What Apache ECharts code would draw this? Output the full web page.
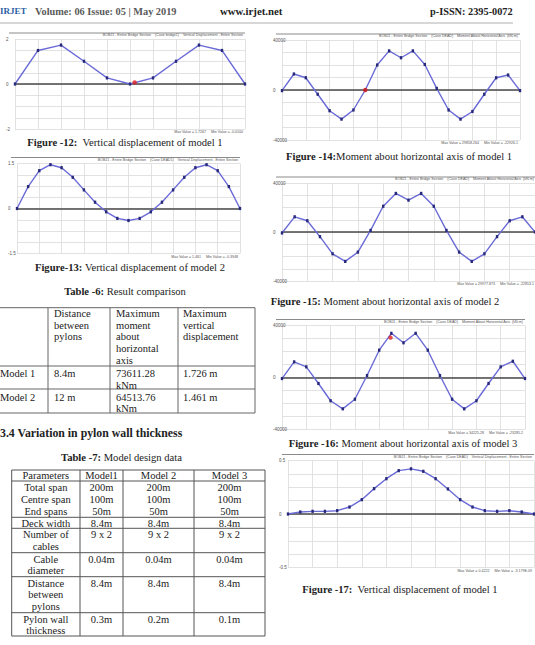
<!DOCTYPE html>
<html>
<head>
<meta charset="utf-8">
<script src="https://cdn.jsdelivr.net/npm/echarts@6/dist/echarts.min.js"></script>
<style>
  html, body { margin: 0; padding: 0; background: #fff; }
  #page { width: 535px; height: 645px; }
</style>
</head>
<body>
<div id="page"></div>
<script>
// deflection / moment values
var fig12Y = [0, 1.49, 1.73, 1.01, 0.27, 0, 0.27, 1.01, 1.73, 1.49, 0];
var fig12Mark = [5.2, 0.07];
var fig13Y = [0, 0.73, 1.26, 1.46, 1.36, 1.04, 0.62, 0.21, -0.11, -0.33, -0.40,
              -0.33, -0.11, 0.21, 0.62, 1.04, 1.36, 1.46, 1.26, 0.73, 0];
var fig14Y = [-500, 12800, 9800, -3400, -16600, -23300, -16000, 0, 20000, 31300, 25800,
              31300, 20400, 1300, -16000, -23300, -17200, -3400, 9800, 12000, -500];
var fig14Mark = [7, 0];
var fig15Y = [-800, 12400, 9200, -3800, -17800, -24000, -16400, 1300, 21000, 31500, 26000,
              31500, 21000, 1300, -16400, -24000, -17800, -3800, 9200, 12400, 0];
var fig16Y = [-800, 12000, 8200, -4600, -17900, -24100, -16700, 1500, 21000, 34000, 26700,
              34000, 21000, 1500, -16700, -24100, -17900, -4600, 8200, 12500, -800];
var fig16Mark = [8.93, 30700];
var fig17Y = [0, 0.019, 0.025, 0.025, 0.031, 0.065, 0.134, 0.237, 0.330, 0.405, 0.422,
              0.399, 0.330, 0.234, 0.134, 0.065, 0.031, 0.025, 0.031, 0.019, 0];

var table6Head = ['', 'Distance\nbetween\npylons', 'Maximum\nmoment\nabout\nhorizontal\naxis', 'Maximum\nvertical\ndisplacement'];
var table6Rows = [
    ['Model 1', '8.4m', '73611.28\nkNm', '1.726 m'],
    ['Model 2', '12 m', '64513.76\nkNm', '1.461 m']
];
var table7Rows = [
    ['Parameters', 'Model1', 'Model 2', 'Model 3'],
    ['Total span\nCentre span\nEnd spans', '200m\n100m\n50m', '200m\n100m\n50m', '200m\n100m\n50m'],
    ['Deck width', '8.4m', '8.4m', '8.4m'],
    ['Number of\ncables', '9 x 2', '9 x 2', '9 x 2'],
    ['Cable\ndiameter', '0.04m', '0.04m', '0.04m'],
    ['Distance\nbetween\npylons', '8.4m', '8.4m', '8.4m'],
    ['Pylon wall\nthickness', '0.3m', '0.2m', '0.1m']
];

var serif = '"Liberation Serif", "DejaVu Serif", serif';
var sans = '"Liberation Sans", Arial, sans-serif';

var plots = [
    {box: [15, 39, 230, 90], ymax: 2, ystep: 0.5, xmax: 10, xstep: 1, values: fig12Y, mark: fig12Mark,
     labels: ['2', '0', '-2'],
     head: 'BOBJ1 - Entire Bridge Section    (Case bridge1)    Vertical Displacement - Entire Section',
     foot: 'Max Value = 1.7267     Min Value = -0.0100'},
    {box: [17, 163.5, 223, 90], ymax: 1.5, ystep: 0.375, xmax: 20, xstep: 2, values: fig13Y,
     labels: ['1.5', '0', '-1.5'],
     head: 'BOBJ1 - Entire Bridge Section    (Case DEAD1)    Vertical Displacement - Entire Section',
     foot: 'Max Value = 1.461     Min Value = -0.3948'},
    {box: [282, 40, 238, 100], ymax: 40000, ystep: 10000, xmax: 20, xstep: 2, values: fig14Y, mark: fig14Mark,
     labels: ['40000', '0', '-40000'],
     head: 'BOBJ1 - Entire Bridge Section    (Case DEAD)    Moment About Horizontal Axis  (kN-m)',
     foot: 'Max Value = 29858.264     Min Value = -22926.1'},
    {box: [282, 183, 254, 98], ymax: 40000, ystep: 10000, xmax: 20, xstep: 2, values: fig15Y,
     labels: ['40000', '0', '-40000'],
     head: 'BOBJ1 - Entire Bridge Section    (Case DEAD)    Moment About Horizontal Axis  (kN-m)',
     foot: 'Max Value = 29977.873     Min Value = -22853.1'},
    {box: [282, 325.5, 243, 104], ymax: 40000, ystep: 10000, xmax: 20, xstep: 2, values: fig16Y, mark: fig16Mark,
     labels: ['40000', '0', '-40000'],
     head: 'BOBJ1 - Entire Bridge Section    (Case DEAD)    Moment About Horizontal Axis  (kN-m)',
     foot: 'Max Value = 34225.28     Min Value = -23285.2'},
    {box: [288, 460.5, 246, 107], ymax: 0.5, ystep: 0.125, xmax: 20, xstep: 2, values: fig17Y,
     labels: ['0.5', '0', '-0.5'],
     head: 'BOBJ1 - Entire Bridge Section    (Case DEAD)    Vertical Displacement - Entire Section',
     foot: 'Max Value = 0.4222     Min Value = -3.179E-09'}
];

function txt(x, y, s, o) {
    o = o || {};
    var style = {
        text: s,
        fill: o.color || '#222',
        fontSize: o.size || 10.5,
        fontWeight: o.weight || 'normal',
        fontFamily: o.family || serif,
        align: o.align || 'left',
        verticalAlign: o.va || 'middle'
    };
    if (o.lh) style.lineHeight = o.lh;
    if (o.rich) style.rich = o.rich;
    return {type: 'text', x: x, y: y, silent: true, z: 10, style: style};
}

function ln(x1, y1, x2, y2, color, w) {
    return {type: 'line', silent: true, z: 9,
        shape: {x1: x1, y1: y1, x2: x2, y2: y2},
        style: {stroke: color || '#555', lineWidth: w || 1}};
}

function caption(cx, y, bold, rest) {
    var rich = {b: {fontWeight: 'bold', fontSize: 10.6, fontFamily: serif, fill: '#222'},
                n: {fontSize: 10.6, fontFamily: serif, fill: '#222'}};
    return txt(cx, y, '{b|' + bold + '}{n|' + rest + '}', {align: 'center', size: 10.6, rich: rich});
}

var grids = [], xAxes = [], yAxes = [], series = [], graphics = [];

plots.forEach(function (p, i) {
    var b = p.box;
    grids.push({left: b[0], top: b[1], width: b[2], height: b[3], containLabel: false});
    xAxes.push({
        gridIndex: i, type: 'value', min: 0, max: p.xmax, interval: p.xstep,
        axisLabel: {show: false}, axisTick: {show: false},
        axisLine: {onZero: true, lineStyle: {color: '#4a4a4a', width: 1.6}},
        splitLine: {lineStyle: {color: '#dadada', width: 0.8}}
    });
    yAxes.push({
        gridIndex: i, type: 'value', min: -p.ymax, max: p.ymax, interval: p.ystep,
        axisLine: {show: false}, axisTick: {show: false},
        splitLine: {lineStyle: {color: '#dadada', width: 0.8}},
        axisLabel: {
            fontSize: 4.5, color: '#555', fontFamily: sans, align: 'left', margin: 9,
            formatter: function (v) {
                if (v === p.ymax) return p.labels[0];
                if (v === 0) return p.labels[1];
                if (v === -p.ymax) return p.labels[2];
                return '';
            }
        }
    });
    series.push({
        type: 'line', xAxisIndex: i, yAxisIndex: i,
        data: p.values.map(function (v, k) { return [k, v]; }),
        symbol: 'rect', symbolSize: [2.4, 3.2], showSymbol: true,
        lineStyle: {color: '#6b6bd8', width: 1.4},
        itemStyle: {color: '#27297a'},
        animation: false, z: 3
    });
    if (p.mark) {
        series.push({
            type: 'scatter', xAxisIndex: i, yAxisIndex: i, data: [p.mark],
            symbolSize: 4.5, itemStyle: {color: '#e3211d'}, animation: false, z: 4
        });
    }
    // frame line on top of the plot window
    graphics.push(ln(b[0] - 6, b[1] - 6, Math.min(b[0] + b[2], 535), b[1] - 6, '#8a8a8a', 1));
    graphics.push(txt(b[0] + b[2] - 2, b[1] - 4, p.head, {size: 3.6, family: sans, color: '#555', align: 'right'}));
    graphics.push(txt(b[0] + b[2] - 2, b[1] + b[3] + 3, p.foot, {size: 3.6, family: sans, color: '#555', align: 'right'}));
});

// page header (journal title is cut by the page edge in the scan)
graphics.push(txt(410, -7.5, 'International Research Journal of Engineering and Technology (IRJET)',
    {size: 13, weight: 'bold', align: 'right'}));
graphics.push(txt(0, 11, 'IRJET', {size: 9, weight: 'bold', color: '#2e5fa6'}));
graphics.push(txt(35, 11, 'Volume: 06 Issue: 05 | May 2019', {size: 10.3, weight: 'bold', color: '#5a5a5a'}));
graphics.push(txt(220, 11, 'www.irjet.net', {size: 10.8, weight: 'bold', color: '#222'}));
graphics.push(txt(430, 11, 'p-ISSN: 2395-0072', {size: 10.3, weight: 'bold', color: '#222'}));
graphics.push(ln(0, 23, 513, 23, '#b0b0b0', 1.2));

// captions
graphics.push(caption(125, 142, 'Figure -12:', '  Vertical displacement of model 1'));
graphics.push(caption(130, 267, 'Figure-13:', ' Vertical displacement of model 2'));
graphics.push(caption(399, 156, 'Figure -14:', 'Moment about horizontal axis of model 1'));
graphics.push(caption(385, 301, 'Figure -15:', ' Moment about horizontal axis of model 2'));
graphics.push(caption(403, 443, 'Figure -16:', ' Moment about horizontal axis of model 3'));
graphics.push(caption(400, 589, 'Figure -17:', '  Vertical displacement of model 1'));
graphics.push(caption(125, 291, 'Table -6:', ' Result comparison'));
graphics.push(caption(121.5, 457, 'Table -7:', ' Model design data'));
graphics.push(txt(0, 433, '3.4 Variation in pylon wall thickness', {size: 11.8, weight: 'bold'}));

// table 6
var t6Cols = [-1, 48, 110, 178, 255];
var t6Lines = [307.7, 366, 389, 413];
var t6TextX = [0, 54, 116, 183];
var t6TextY = [307.5, 367.5, 391.2];
t6Cols.forEach(function (x) { graphics.push(ln(x, t6Lines[0], x, t6Lines[3], '#666', 1)); });
t6Lines.forEach(function (y) { graphics.push(ln(-1, y, 255, y, '#666', 1)); });
[table6Head].concat(table6Rows).forEach(function (row, r) {
    row.forEach(function (cell, c) {
        if (cell) graphics.push(txt(t6TextX[c], t6TextY[r], cell, {size: 10.5, va: 'top', lh: 11.7}));
    });
});

// table 7
var t7Cols = [11.7, 80, 123, 194, 265];
var t7Lines = [470, 481, 517.3, 528.3, 552.7, 576.7, 612.7, 636];
var t7TextY = [475.7, 487.7, 523.3, 535, 559.3, 583.3, 619.3];
t7Cols.forEach(function (x) { graphics.push(ln(x, t7Lines[0], x, t7Lines[7], '#555', 1)); });
t7Lines.forEach(function (y) { graphics.push(ln(t7Cols[0], y, t7Cols[4], y, '#555', 1)); });
table7Rows.forEach(function (row, r) {
    row.forEach(function (cell, c) {
        var cx = (t7Cols[c] + t7Cols[c + 1]) / 2;
        graphics.push(txt(cx, t7TextY[r] - 5.85, cell, {size: 10.5, va: 'top', lh: 11.7, align: 'center'}));
    });
});

var myChart = echarts.init(document.getElementById('page'), null, {renderer: 'svg'});
var option = {
    backgroundColor: '#fff',
    animation: false,
    grid: grids,
    xAxis: xAxes,
    yAxis: yAxes,
    series: series,
    graphic: graphics
};
myChart.setOption(option);
</script>
</body>
</html>
